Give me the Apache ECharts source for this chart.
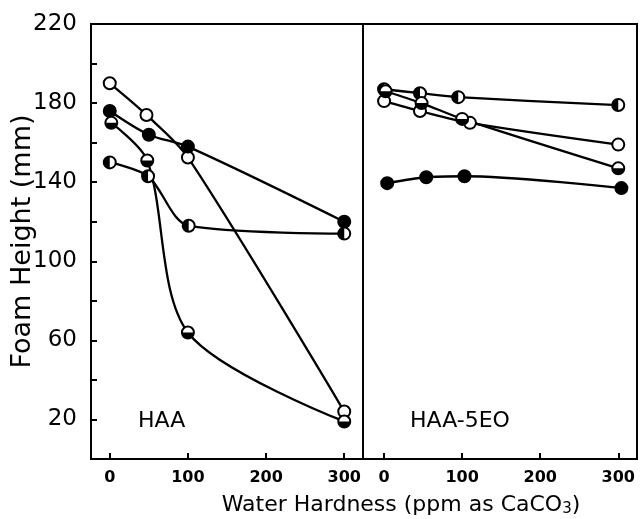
<!DOCTYPE html>
<html><head><meta charset="utf-8">
<script src="https://cdn.jsdelivr.net/npm/echarts@6/dist/echarts.min.js"></script>
<style>html,body{margin:0;padding:0;background:#fff}#c{width:641px;height:519px}</style>
</head><body><div id="c"></div>
<script>
// ---- data ----
const xTickValues = [0, 100, 200, 300];
const yTickLabels = [20, 60, 100, 140, 180, 220];
const panelLabels = ['HAA', 'HAA-5EO'];

// left panel (HAA)
const haaOpenX = [0, 47, 100, 300];
const haaOpenY = [190, 174, 152.5, 24];
const haaFilledX = [0, 50, 100, 300];
const haaFilledY = [176, 164, 158, 120];
const haaBottomHalfX = [2, 48, 100, 300];
const haaBottomHalfY = [170, 151, 64, 19];
const haaLeftHalfX = [0, 49, 101, 300];
const haaLeftHalfY = [150, 143, 118, 114];

// right panel (HAA-5EO)
const eoLeftHalfX = [0, 46, 95, 300];
const eoLeftHalfY = [187, 185, 183, 179];
const eoOpenX = [0, 46, 110, 300];
const eoOpenY = [181, 176, 170, 159];
const eoBottomHalfX = [2, 48, 100, 300];
const eoBottomHalfY = [186, 180, 172, 147];
const eoFilledX = [4, 54, 103, 304];
const eoFilledY = [139.5, 142.5, 143, 137];

function pairs(xs, ys) { return xs.map((x, i) => [x, ys[i]]); }

const R = 6;
function markerItem(kind) {
  return function (params, api) {
    const p = api.coord([api.value(0), api.value(1)]);
    const ch = [];
    ch.push({ type: 'circle', shape: { cx: p[0], cy: p[1], r: R },
      style: { fill: kind === 'filled' ? '#000' : '#fff', stroke: '#000', lineWidth: 2 } });
    if (kind === 'left' || kind === 'bottom') {
      const a = kind === 'left' ? [Math.PI / 2, Math.PI * 1.5] : [0, Math.PI];
      ch.push({ type: 'sector', shape: { cx: p[0], cy: p[1], r: R, r0: 0, startAngle: a[0], endAngle: a[1], clockwise: true },
        style: { fill: '#000' } });
    }
    return { type: 'group', children: ch };
  };
}

function lineSeries(xs, ys, gi) {
  return { type: 'line', xAxisIndex: gi, yAxisIndex: gi, data: pairs(xs, ys), smooth: 0.3,
    symbol: 'none', lineStyle: { color: '#000', width: 2.3 }, z: 2, animation: false };
}
function markSeries(xs, ys, gi, kind) {
  return { type: 'custom', xAxisIndex: gi, yAxisIndex: gi, data: pairs(xs, ys),
    renderItem: markerItem(kind), z: 5, animation: false, clip: false };
}

const FONT = 'DejaVu Sans';
const chart = echarts.init(document.getElementById('c'));

function xAxisDef(gi, min, max) {
  return { type: 'value', gridIndex: gi, min: min, max: max,
    axisLine: { show: true, onZero: false, lineStyle: { color: '#000', width: 2 } },
    axisTick: { show: true, inside: true, length: 6, lineStyle: { color: '#000', width: 2 }, customValues: xTickValues },
    axisLabel: { color: '#000', fontSize: 16, fontWeight: 'bold', fontFamily: FONT, margin: 11, customValues: xTickValues },
    splitLine: { show: false } };
}
function yAxisDef(gi, showLabels) {
  return { type: 'value', gridIndex: gi, min: 0, max: 220, interval: 20,
    name: showLabels ? 'Foam Height (mm)' : '', nameLocation: 'middle', nameGap: 55, nameMoveOverlap: false,
    nameTextStyle: { color: '#000', fontSize: 27, fontFamily: FONT },
    axisLine: { show: showLabels, onZero: false, lineStyle: { color: '#000', width: 2 } },
    axisTick: { show: showLabels, inside: true, length: 6, lineStyle: { color: '#000', width: 2 } },
    axisLabel: { show: showLabels, color: '#000', fontSize: 23, fontFamily: FONT, margin: 14,
      formatter: v => yTickLabels.indexOf(v) >= 0 ? String(v) : '' },
    splitLine: { show: false } };
}

chart.setOption({
  backgroundColor: '#fff',
  animation: false,
  grid: [
    { left: 91, top: 24, width: 272, height: 435, show: true, borderColor: '#000', borderWidth: 2, backgroundColor: 'transparent' },
    { left: 363, top: 24, width: 274, height: 435, show: true, borderColor: '#000', borderWidth: 2, backgroundColor: 'transparent' }
  ],
  xAxis: [xAxisDef(0, -24, 324), xAxisDef(1, -27, 324)],
  yAxis: [yAxisDef(0, true), yAxisDef(1, false)],
  graphic: [
    { type: 'text', left: 138, top: 410, style: { text: panelLabels[0], fontSize: 22, fontFamily: FONT, fill: '#000' } },
    { type: 'text', left: 410, top: 410, style: { text: panelLabels[1], fontSize: 22, fontFamily: FONT, fill: '#000' } },
    { type: 'text', x: 401, y: 505, style: {
        text: 'Water Hardness (ppm as CaCO{sub|3})', fontSize: 22, fontFamily: FONT, fill: '#000',
        align: 'center', verticalAlign: 'middle',
        rich: { sub: { fontSize: 15, fontFamily: FONT, fill: '#000', padding: [9, 0, 0, 0] } } } }
  ],
  series: [
    lineSeries(haaOpenX, haaOpenY, 0),
    lineSeries(haaFilledX, haaFilledY, 0),
    lineSeries(haaBottomHalfX, haaBottomHalfY, 0),
    lineSeries(haaLeftHalfX, haaLeftHalfY, 0),
    lineSeries(eoLeftHalfX, eoLeftHalfY, 1),
    lineSeries(eoOpenX, eoOpenY, 1),
    lineSeries(eoBottomHalfX, eoBottomHalfY, 1),
    lineSeries(eoFilledX, eoFilledY, 1),
    markSeries(haaOpenX, haaOpenY, 0, 'open'),
    markSeries(haaFilledX, haaFilledY, 0, 'filled'),
    markSeries(haaBottomHalfX, haaBottomHalfY, 0, 'bottom'),
    markSeries(haaLeftHalfX, haaLeftHalfY, 0, 'left'),
    markSeries(eoLeftHalfX, eoLeftHalfY, 1, 'left'),
    markSeries(eoOpenX, eoOpenY, 1, 'open'),
    markSeries(eoBottomHalfX, eoBottomHalfY, 1, 'bottom'),
    markSeries(eoFilledX, eoFilledY, 1, 'filled')
  ]
});
</script></body></html>
